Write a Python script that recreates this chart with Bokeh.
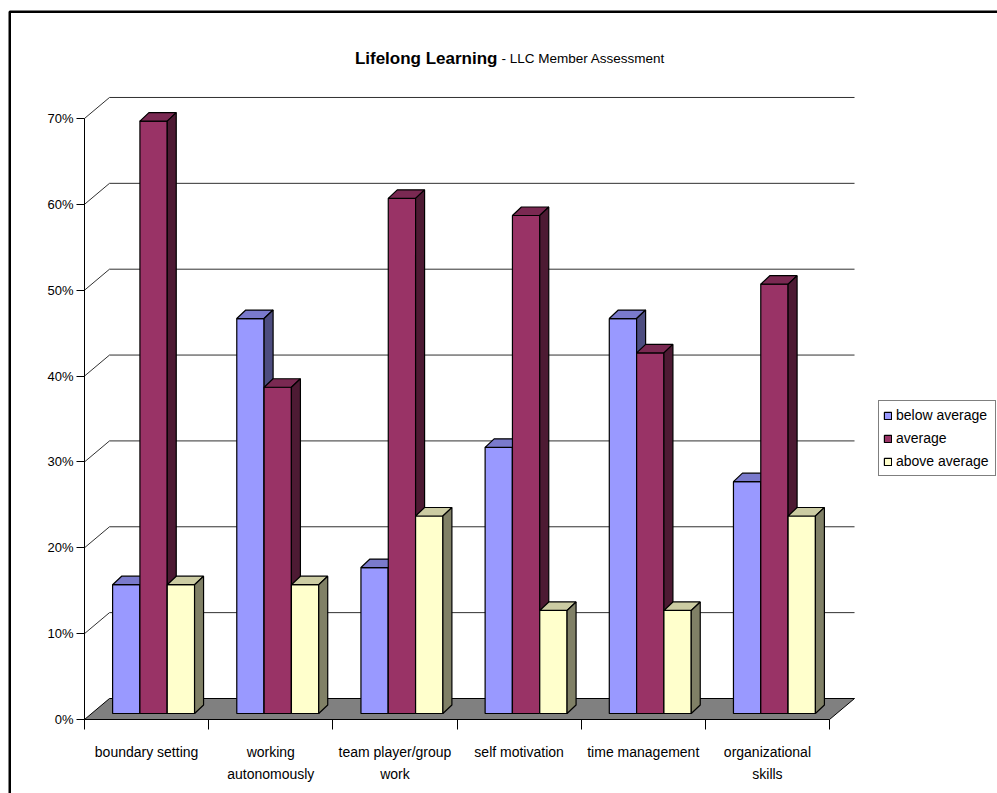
from bokeh.plotting import figure
from bokeh.models import (Range1d, FixedTicker, PrintfTickFormatter, Legend,
                          LegendItem, Label)
from bokeh.embed import file_html
from bokeh.resources import INLINE

# ---- data -------------------------------------------------------------
categories = ["boundary setting", "working\nautonomously", "team player/group\nwork",
              "self motivation", "time management", "organizational\nskills"]
series_names = ["below average", "average", "above average"]
below_average = [15, 46, 17, 31, 46, 27]
average = [69, 38, 60, 58, 42, 50]
above_average = [15, 15, 23, 12, 12, 23]
y_ticks = [0, 10, 20, 30, 40, 50, 60, 70]

series_values = [below_average, average, above_average]

# ---- styling ----------------------------------------------------------
front_colors = ["#9999FF", "#993366", "#FFFFCC"]
top_colors = ["#7A7ACC", "#7A2952", "#CCCCA3"]
side_colors = ["#4D4D80", "#4D1A33", "#808066"]
FONT = "Liberation Sans"

W, H = 997, 793
ORIGIN_X, ORIGIN_Y = 84, 719   # canvas pixel of the front-left corner of the floor
PX_X = 124.17   # pixels per category slot
PX_Y = 8.586    # pixels per percentage point


def dx(px):
    return px / PX_X


def dy(px):
    return px / PX_Y


def sx(px):
    # canvas x pixel -> data x
    return (px - ORIGIN_X) / PX_X


def sy(py):
    # canvas y pixel -> data y
    return (ORIGIN_Y - py) / PX_Y


FLOOR_DX, FLOOR_DY = dx(25), dy(21)        # depth of the floor / side wall
BAR_SHIFT_X, BAR_SHIFT_Y = dx(7), dy(6)    # bars stand a little behind the front edge
BAR_DEPTH_X, BAR_DEPTH_Y = dx(9), dy(8.5)  # depth of each bar
BAR_W = 0.22
n = len(categories)

# the plotting frame covers the whole canvas; axes are pinned to the floor corner
p = figure(width=W, height=H, output_backend="svg", toolbar_location=None,
           x_range=Range1d(sx(0), sx(W)), y_range=Range1d(sy(H), sy(0)),
           min_border_left=0, min_border_right=0,
           min_border_top=0, min_border_bottom=0)
p.outline_line_color = None
p.background_fill_color = "white"
p.border_fill_color = "white"
p.xgrid.visible = False
p.ygrid.visible = False

# ---- walls and floor --------------------------------------------------
top_val = max(y_ticks)
grid_vals = [v for v in y_ticks if v > 0]
p.multi_line(xs=[[0, FLOOR_DX, n + FLOOR_DX] for v in grid_vals],
             ys=[[v, v + FLOOR_DY, v + FLOOR_DY] for v in grid_vals],
             line_color="#303030", line_width=1)
p.patch([0, n, n + FLOOR_DX, FLOOR_DX], [0, 0, FLOOR_DY, FLOOR_DY],
        fill_color="#808080", line_color="black", line_width=1)
p.segment(x0=[0], y0=[0], x1=[0], y1=[top_val], line_color="black", line_width=1)

# ---- 3D bars ----------------------------------------------------------
legend_items = []
for j, (name, vals) in enumerate(zip(series_names, series_values)):
    lefts = [i + 0.5 - 1.5 * BAR_W + j * BAR_W + BAR_SHIFT_X for i in range(n)]
    rights = [l + BAR_W for l in lefts]
    bottoms = [BAR_SHIFT_Y] * n
    tops = [v + BAR_SHIFT_Y for v in vals]

    front = p.quad(left=lefts, right=rights, bottom=bottoms, top=tops,
                   fill_color=front_colors[j], line_color="black", line_width=1.2)
    p.patches(xs=[[l, r, r + BAR_DEPTH_X, l + BAR_DEPTH_X] for l, r in zip(lefts, rights)],
              ys=[[t, t, t + BAR_DEPTH_Y, t + BAR_DEPTH_Y] for t in tops],
              fill_color=top_colors[j], line_color="black", line_width=1.2)
    p.patches(xs=[[r, r + BAR_DEPTH_X, r + BAR_DEPTH_X, r] for r in rights],
              ys=[[b, b + BAR_DEPTH_Y, t + BAR_DEPTH_Y, t] for b, t in zip(bottoms, tops)],
              fill_color=side_colors[j], line_color="black", line_width=1.2)
    legend_items.append(LegendItem(label=name, renderers=[front]))

# ---- axes -------------------------------------------------------------
yax = p.yaxis[0]
yax.fixed_location = 0
yax.ticker = FixedTicker(ticks=y_ticks)
yax.formatter = PrintfTickFormatter(format="%d%%")
yax.axis_line_color = None
yax.major_tick_out = 8
yax.major_tick_in = 0
yax.minor_tick_line_color = None
yax.major_tick_line_color = "black"
yax.major_label_standoff = 3
yax.major_label_text_font = FONT
yax.major_label_text_font_size = "13px"
yax.major_label_text_color = "black"

xax = p.xaxis[0]
xax.fixed_location = 0
centers = [i + 0.5 for i in range(n)]
xax.ticker = FixedTicker(ticks=centers, minor_ticks=list(range(n + 1)))
xax.major_label_overrides = {c: lab for c, lab in zip(centers, categories)}
xax.axis_line_color = None
xax.major_tick_line_color = None
xax.major_tick_out = 0
xax.major_tick_in = 0
xax.minor_tick_line_color = "black"
xax.minor_tick_out = 10
xax.minor_tick_in = 0
xax.major_label_standoff = 14
xax.major_label_text_font = FONT
xax.major_label_text_font_size = "14px"
xax.major_label_text_color = "black"
xax.major_label_text_line_height = 1.4

# ---- title ------------------------------------------------------------
p.add_layout(Label(x=sx(497), y=sy(58), text="Lifelong Learning",
                   text_align="right", text_baseline="alphabetic",
                   text_font=FONT, text_font_style="bold", text_font_size="17px",
                   text_color="black"))
p.add_layout(Label(x=sx(501), y=sy(58), text="- LLC Member Assessment",
                   text_align="left", text_baseline="alphabetic",
                   text_font=FONT, text_font_size="13.5px", text_color="black"))

# ---- legend -----------------------------------------------------------
legend = Legend(items=legend_items, location=(878, H - 476),
                border_line_color="black", border_line_width=1,
                background_fill_color="white", background_fill_alpha=1.0,
                glyph_width=9, glyph_height=9, label_height=20, label_width=95,
                label_standoff=4, spacing=3, padding=4, margin=0,
                label_text_font=FONT, label_text_font_size="14px",
                label_text_color="black")
p.add_layout(legend)

# ---- chart-area border (runs off the right and bottom edges) -----------
p.quad(left=[sx(9.25)], right=[sx(W + 20)], top=[sy(11.25)], bottom=[sy(H + 20)],
       fill_alpha=0, line_color="black", line_width=2.5)

open("out.html", "w").write(file_html(p, INLINE))
